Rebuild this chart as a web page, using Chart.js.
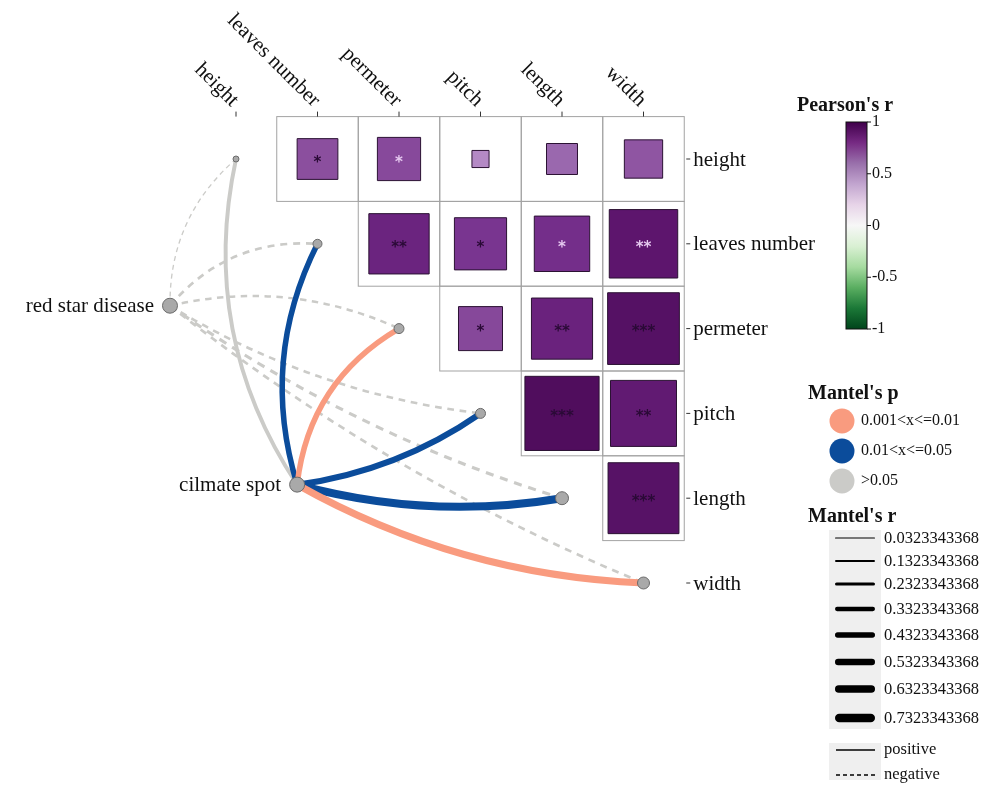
<!DOCTYPE html>
<html>
<head>
<meta charset="utf-8">
<script src="https://cdn.jsdelivr.net/npm/chart.js@4.4.0/dist/chart.umd.min.js"></script>
<style>
body { margin: 0; background: #fff; }
#wrap { width: 1000px; height: 787px; position: relative; }
</style>
</head>
<body>
<div id="wrap"><canvas id="mantel"></canvas></div>
<script>
// heatmap variables (columns on top, rows on the right)
var traits = ["height", "leaves number", "permeter", "pitch", "length", "width"];

// Pearson's r, upper triangle, one array per row (columns after the diagonal)
var pearsonHeight = [0.50, 0.53, 0.21, 0.38, 0.47];
var pearsonLeaves = [0.74, 0.64, 0.68, 0.84];
var pearsonPermeter = [0.54, 0.75, 0.88];
var pearsonPitch = [0.91, 0.81];
var pearsonLength = [0.87];

var starsHeight = ["*", "*", "", "", ""];
var starsLeaves = ["**", "*", "*", "**"];
var starsPermeter = ["*", "**", "***"];
var starsPitch = ["***", "**"];
var starsLength = ["***"];

// Mantel test, env -> each trait
var envNames = ["red star disease", "cilmate spot"];
var mantelRedStar = [-0.05, -0.18, -0.16, -0.17, -0.22, -0.18];
var mantelClimate = [0.30, 0.45, 0.45, 0.50, 0.70, 0.60];
var pRedStar = [">0.05", ">0.05", ">0.05", ">0.05", ">0.05", ">0.05"];
var pClimate = [">0.05", "0.01<x<=0.05", "0.001<x<=0.01", "0.01<x<=0.05", "0.01<x<=0.05", "0.001<x<=0.01"];

// legends
var pearsonTicks = [1, 0.5, 0, -0.5, -1];
var pClasses = ["0.001<x<=0.01", "0.01<x<=0.05", ">0.05"];
var mantelRBreaks = [0.0323343368, 0.1323343368, 0.2323343368, 0.3323343368,
                     0.4323343368, 0.5323343368, 0.6323343368, 0.7323343368];
var signLabels = ["positive", "negative"];

// ---- layout / style (not data) ----
var envPos = [{ x: 0.19, y: 2.73 }, { x: 1.75, y: 4.84 }];
var curvRedStar = [0.23, 0.25, 0.17, -0.11, -0.08, -0.07];
var curvClimate = [0.21, 0.20, 0.25, -0.12, -0.11, -0.12];
var traitNodeRadius = [3, 4.5, 5, 5, 6.5, 6];
var envNodeRadius = 7.5;
var lightStars = { "0-2": 1, "1-4": 1, "1-5": 1 };
var pColors = { "0.001<x<=0.01": "#f99b7f", "0.01<x<=0.05": "#0b4c9b", ">0.05": "#cbcbc8" };
var serif = "'Liberation Serif', 'DejaVu Serif', serif";

var cellStops = [[0, "#f4eef6"], [0.2, "#b68bc6"], [0.38, "#9a68ae"], [0.5, "#8b4f9e"],
                 [0.65, "#78338f"], [0.75, "#6a227d"], [0.85, "#5b146b"], [0.92, "#4e0c5b"], [1, "#40004b"]];

function hexRgb(h) {
    return [parseInt(h.substr(1, 2), 16), parseInt(h.substr(3, 2), 16), parseInt(h.substr(5, 2), 16)];
}
function cellColor(v) {
    var a = Math.abs(v);
    for (var i = 1; i < cellStops.length; i++) {
        if (a <= cellStops[i][0]) {
            var t = (a - cellStops[i - 1][0]) / (cellStops[i][0] - cellStops[i - 1][0]);
            var c0 = hexRgb(cellStops[i - 1][1]), c1 = hexRgb(cellStops[i][1]);
            return "rgb(" + c0.map(function (c, k) { return Math.round(c + (c1[k] - c) * t); }).join(",") + ")";
        }
    }
    return cellStops[cellStops.length - 1][1];
}
function lineW(r) { return 0.8 + 10.5 * Math.abs(r); }

var pearsonRows = [pearsonHeight, pearsonLeaves, pearsonPermeter, pearsonPitch, pearsonLength];
var starRows = [starsHeight, starsLeaves, starsPermeter, starsPitch, starsLength];

var squares = [];
pearsonRows.forEach(function (row, i) {
    row.forEach(function (v, k) {
        squares.push({ x: i + k + 2, y: i + 1, v: v, s: starRows[i][k], key: i + "-" + (i + k + 1) });
    });
});
var nodes = traits.map(function (t, i) { return { x: i + 1, y: i + 1, rad: traitNodeRadius[i] }; });
envPos.forEach(function (p) { nodes.push({ x: p.x, y: p.y, rad: envNodeRadius }); });

function curve(ctx, x0, y0, x1, y1, c) {
    var dx = x1 - x0, dy = y1 - y0;
    var cx = (x0 + x1) / 2 + c * dy, cy = (y0 + y1) / 2 - c * dx;
    ctx.beginPath();
    ctx.moveTo(x0, y0);
    ctx.quadraticCurveTo(cx, cy, x1, y1);
    ctx.stroke();
}

var mantelPlugin = {
    id: "mantel",
    beforeDatasetsDraw: function (chart) {
        var ctx = chart.ctx, xs = chart.scales.x, ys = chart.scales.y;
        ctx.save();
        // grid of the upper triangle
        ctx.strokeStyle = "#a3a3a3";
        ctx.lineWidth = 1;
        for (var i = 0; i < traits.length; i++) {
            for (var j = i + 1; j < traits.length; j++) {
                var l = xs.getPixelForValue(j + 0.5), r = xs.getPixelForValue(j + 1.5);
                var t = ys.getPixelForValue(i + 0.5), b = ys.getPixelForValue(i + 1.5);
                ctx.strokeRect(l, t, r - l, b - t);
            }
        }
        // links: dashed first, then solid
        var links = [];
        [mantelRedStar, mantelClimate].forEach(function (arr, e) {
            var ps = e === 0 ? pRedStar : pClimate;
            var cv = e === 0 ? curvRedStar : curvClimate;
            arr.forEach(function (r, k) {
                links.push({ e: e, k: k, r: r, p: ps[k], c: cv[k] });
            });
        });
        function rank(a) { return a.r < 0 ? 0 : (a.p === ">0.05" ? 1 : 2); }
        links.sort(function (a, b) { return rank(a) - rank(b); });
        links.forEach(function (L) {
            var w = lineW(L.r);
            ctx.strokeStyle = pColors[L.p];
            ctx.lineWidth = w;
            ctx.lineCap = "butt";
            ctx.setLineDash(L.r < 0 ? [Math.max(5, 2.6 * w), Math.max(4, 2.2 * w)] : []);
            curve(ctx, xs.getPixelForValue(envPos[L.e].x), ys.getPixelForValue(envPos[L.e].y),
                  xs.getPixelForValue(L.k + 1), ys.getPixelForValue(L.k + 1), L.c);
        });
        ctx.restore();
    },
    afterDatasetsDraw: function (chart) {
        var ctx = chart.ctx, xs = chart.scales.x, ys = chart.scales.y;
        ctx.save();
        // significance stars
        ctx.textAlign = "center";
        ctx.textBaseline = "middle";
        ctx.font = "bold 15px 'DejaVu Sans'";
        squares.forEach(function (q) {
            if (!q.s) return;
            ctx.fillStyle = lightStars[q.key] ? "#e6c9f0" : "#2a0a36";
            ctx.fillText(q.s, xs.getPixelForValue(q.x), ys.getPixelForValue(q.y) + 4);
        });
        // ticks and trait labels
        ctx.strokeStyle = "#333";
        ctx.lineWidth = 1;
        ctx.fillStyle = "#111";
        ctx.font = "21px " + serif;
        var gridTop = ys.getPixelForValue(0.5), gridRight = xs.getPixelForValue(6.5);
        traits.forEach(function (t, i) {
            var px = xs.getPixelForValue(i + 1), py = ys.getPixelForValue(i + 1);
            ctx.beginPath();
            ctx.moveTo(px, gridTop - 5); ctx.lineTo(px, gridTop);
            ctx.moveTo(gridRight + 2, py); ctx.lineTo(gridRight + 6, py);
            ctx.stroke();
            ctx.textAlign = "left";
            ctx.textBaseline = "middle";
            ctx.fillText(t, gridRight + 9, py + 1);
            ctx.save();
            ctx.translate(px - 1, gridTop - 13);
            ctx.rotate(Math.PI / 4);
            ctx.textAlign = "right";
            ctx.fillText(t, 0, 0);
            ctx.restore();
        });
        // env labels
        ctx.textAlign = "right";
        envNames.forEach(function (n, e) {
            ctx.fillText(n, xs.getPixelForValue(envPos[e].x) - 16, ys.getPixelForValue(envPos[e].y) + 1);
        });

        // Pearson's r colour bar
        ctx.textAlign = "center";
        ctx.textBaseline = "alphabetic";
        ctx.font = "bold 20px " + serif;
        ctx.fillText("Pearson's r", 845, 111);
        var bx = 846, by = 122, bw = 21, bh = 207;
        var g = ctx.createLinearGradient(0, by, 0, by + bh);
        ["#40004b", "#762a83", "#9970ab", "#c2a5cf", "#e7d4e8", "#f7f7f7",
         "#d9f0d3", "#a6dba0", "#5aae61", "#1b7837", "#00441b"].forEach(function (c, k) { g.addColorStop(k / 10, c); });
        ctx.fillStyle = g;
        ctx.fillRect(bx, by, bw, bh);
        ctx.strokeStyle = "#111";
        ctx.strokeRect(bx, by, bw, bh);
        ctx.fillStyle = "#111";
        ctx.font = "16px " + serif;
        ctx.textAlign = "left";
        ctx.textBaseline = "middle";
        pearsonTicks.forEach(function (v) {
            var y = by + (1 - v) / 2 * bh;
            ctx.beginPath(); ctx.moveTo(bx + bw, y); ctx.lineTo(bx + bw + 4, y); ctx.stroke();
            ctx.fillText(String(v), bx + bw + 5, y);
        });

        // Mantel's p
        ctx.font = "bold 20px " + serif;
        ctx.textBaseline = "alphabetic";
        ctx.fillText("Mantel's p", 808, 399);
        ctx.font = "16px " + serif;
        ctx.textBaseline = "middle";
        pClasses.forEach(function (p, k) {
            var y = 421 + k * 30;
            ctx.fillStyle = pColors[p];
            ctx.beginPath(); ctx.arc(842, y, 12.5, 0, Math.PI * 2); ctx.fill();
            ctx.fillStyle = "#111";
            ctx.fillText(p, 861, y);
        });

        // Mantel's r
        ctx.font = "bold 20px " + serif;
        ctx.textBaseline = "alphabetic";
        ctx.fillText("Mantel's r", 808, 522);
        ctx.fillStyle = "#efefef";
        ctx.fillRect(829, 530, 52, 199);
        ctx.fillRect(829, 743, 52, 37);
        ctx.font = "16.5px " + serif;
        ctx.textBaseline = "middle";
        ctx.strokeStyle = "#000";
        ctx.lineCap = "round";
        var ry = [538, 561, 584, 609, 635, 662, 689, 718];
        mantelRBreaks.forEach(function (r, k) {
            var w = lineW(r);
            ctx.lineWidth = w;
            ctx.beginPath(); ctx.moveTo(835 + w / 2, ry[k]); ctx.lineTo(875 - w / 2, ry[k]); ctx.stroke();
            ctx.fillStyle = "#111";
            ctx.fillText(r.toFixed(10), 884, ry[k] + 1);
        });
        ctx.lineCap = "butt";
        signLabels.forEach(function (s, k) {
            var y = 750 + k * 25;
            ctx.lineWidth = 1.6;
            ctx.setLineDash(k === 0 ? [] : [4, 3]);
            ctx.beginPath(); ctx.moveTo(836, y); ctx.lineTo(875, y); ctx.stroke();
            ctx.fillText(s, 884, y);
        });
        ctx.restore();
    }
};

var ctx = document.getElementById("mantel").getContext("2d");
var xMin = 1 - 236 / 81.5, yMin = 1 - 159 / 84.8;

new Chart(ctx, {
    type: "scatter",
    data: {
        datasets: [{
            data: squares,
            pointStyle: "rect",
            pointRadius: function (c) {
                var s = c.chart.scales.x;
                var cw = s.getPixelForValue(2) - s.getPixelForValue(1);
                return Math.abs(c.raw.v) * cw / (2 * Math.SQRT1_2);
            },
            pointBackgroundColor: function (c) { return cellColor(c.raw.v); },
            pointBorderColor: "#2b1233",
            pointBorderWidth: 1
        }, {
            data: nodes,
            pointStyle: "circle",
            pointRadius: function (c) { return c.raw.rad; },
            pointBackgroundColor: "#a9a9a9",
            pointBorderColor: "#6b6b6b",
            pointBorderWidth: 1
        }]
    },
    options: {
        responsive: true,
        maintainAspectRatio: false,
        animation: false,
        events: [],
        layout: { padding: 0, autoPadding: false },
        scales: {
            x: { type: "linear", display: false, min: xMin, max: xMin + 1000 / 81.5 },
            y: { type: "linear", display: false, reverse: true, min: yMin, max: yMin + 787 / 84.8 }
        },
        plugins: {
            legend: { display: false },
            tooltip: { enabled: false }
        }
    },
    plugins: [mantelPlugin]
});
</script>
</body>
</html>
